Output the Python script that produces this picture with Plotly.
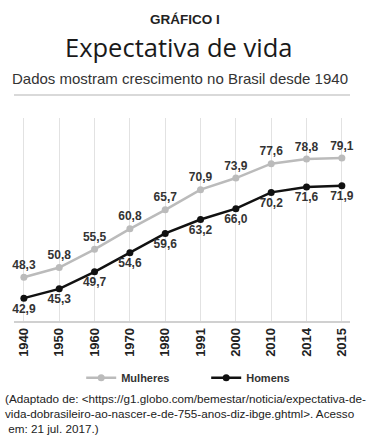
import plotly.graph_objects as go

anos = ["1940", "1950", "1960", "1970", "1980", "1991", "2000", "2010", "2014", "2015"]
mulheres = [48.3, 50.8, 55.5, 60.8, 65.7, 70.9, 73.9, 77.6, 78.8, 79.1]
homens = [42.9, 45.3, 49.7, 54.6, 59.6, 63.2, 66.0, 70.2, 71.6, 71.9]

def fmt(v):
    return "<b>" + f"{v:.1f}".replace(".", ",") + "</b>"

xs = list(range(len(anos)))

fig = go.Figure()
fig.add_trace(go.Scatter(
    x=xs, y=mulheres, name="<b>Mulheres</b>", mode="lines+markers+text",
    line=dict(color="#bbbbbb", width=2.5), marker=dict(color="#bbbbbb", size=7),
    text=[fmt(v) for v in mulheres], textposition="top center",
    textfont=dict(family="Arial", size=12, color="#333333"),
    cliponaxis=False,
))
fig.add_trace(go.Scatter(
    x=xs, y=homens, name="<b>Homens</b>", mode="lines+markers+text",
    line=dict(color="#111111", width=2.5), marker=dict(color="#111111", size=7),
    text=[fmt(v) for v in homens], textposition="bottom center",
    textfont=dict(family="Arial", size=12, color="#333333"),
    cliponaxis=False,
))

fig.update_layout(
    width=384, height=443,
    margin=dict(l=14, r=34, t=118, b=122, autoexpand=False),
    paper_bgcolor="white", plot_bgcolor="white",
    showlegend=True,
    legend=dict(orientation="h", x=0.2, xanchor="left", y=-0.28, yanchor="middle",
                font=dict(family="Arial", size=11, color="#333333"),
                entrywidth=80, traceorder="normal"),
    xaxis=dict(range=[-0.28, 9.23], tickvals=xs,
               ticktext=["<b>%s</b>" % a for a in anos],
               tickangle=-90, showgrid=True, gridcolor="#e2e2e2", gridwidth=1,
               showline=True, linecolor="#d0d0d0", linewidth=1.5, zeroline=False,
               tickfont=dict(family="Arial", size=13, color="#222222"), ticks=""),
    yaxis=dict(range=[37.0, 89.4], visible=False, showgrid=False, zeroline=False),
)

fig.add_shape(type="line", xref="paper", yref="paper", x0=0, x1=1, y0=(321 - 95) / 203, y1=(321 - 95) / 203,
              line=dict(color="#cccccc", width=1.5))

fig.add_annotation(text="<b>GRÁFICO I</b>", xref="paper", yref="paper", x=0.509, y=(321 - 20) / 203,
                   showarrow=False, font=dict(family="Arial", size=13.5, color="#222222"),
                   xanchor="center", yanchor="middle")
fig.add_annotation(text="Expectativa de vida", xref="paper", yref="paper", x=0.491, y=(321 - 47) / 203,
                   showarrow=False,
                   font=dict(family="Open Sans", size=25.5, color="#1a1a1a"),
                   xanchor="center", yanchor="middle")
fig.add_annotation(text="Dados mostram crescimento no Brasil desde 1940", xref="paper", yref="paper",
                   x=0.494, y=(321 - 78) / 203, showarrow=False,
                   font=dict(family="Arial", size=15, color="#333333"),
                   xanchor="center", yanchor="middle")
fig.add_annotation(
    text="(Adaptado de: &lt;https://g1.globo.com/bemestar/noticia/expectativa-de-<br>"
         "vida-dobrasileiro-ao-nascer-e-de-755-anos-diz-ibge.ghtml&gt;. Acesso<br>"
         " em: 21 jul. 2017.)",
    xref="paper", yref="paper", x=(3 - 14) / 336, y=(321 - 390) / 203, showarrow=False, align="left",
    xanchor="left", yanchor="top",
    font=dict(family="Arial", size=11.7, color="#222222"))

fig.write_html("out.html", config={"displayModeBar": False},
               post_script="document.body.style.margin='0';")
